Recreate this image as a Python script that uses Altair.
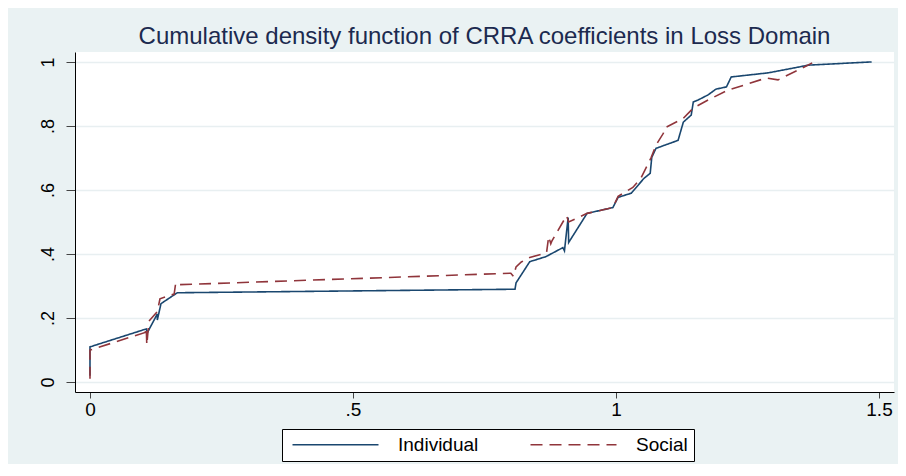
import altair as alt
import pandas as pd

series_names = ["Individual", "Social"]
series_colors = ["#1a476f", "#90353b"]

indiv_x = [0.0, 0.0, 0.107, 0.109, 0.128, 0.128, 0.135, 0.166, 0.808, 0.81, 0.825, 0.836,
           0.867, 0.899, 0.902, 0.909, 0.910, 0.945, 0.994, 1.004, 1.029, 1.053, 1.065,
           1.068, 1.076, 1.118, 1.128, 1.143, 1.147, 1.156, 1.175, 1.19, 1.21, 1.219,
           1.29, 1.366, 1.486]
indiv_y = [0.02, 0.11, 0.166, 0.154, 0.213, 0.194, 0.245, 0.279, 0.29, 0.31, 0.348, 0.376,
           0.392, 0.42, 0.41, 0.514, 0.436, 0.527, 0.545, 0.577, 0.59, 0.636, 0.652,
           0.702, 0.73, 0.755, 0.812, 0.834, 0.875, 0.881, 0.897, 0.915, 0.922, 0.953,
           0.966, 0.99, 1.0]

social_x = [0.0, 0.0, 0.105, 0.107, 0.108, 0.112, 0.128, 0.133, 0.16, 0.163, 0.167, 0.80,
            0.805, 0.81, 0.82, 0.836, 0.868, 0.872, 0.876, 0.878, 0.906, 0.91, 0.945,
            0.994, 1.004, 1.032, 1.047, 1.067, 1.076, 1.09, 1.092, 1.128, 1.147, 1.175,
            1.213, 1.244, 1.286, 1.308, 1.347, 1.373]
social_y = [0.01, 0.10, 0.155, 0.17, 0.116, 0.19, 0.22, 0.26, 0.275, 0.31, 0.304, 0.34,
            0.33, 0.36, 0.375, 0.389, 0.404, 0.455, 0.432, 0.44, 0.52, 0.50, 0.527,
            0.545, 0.58, 0.608, 0.636, 0.702, 0.74, 0.777, 0.793, 0.824, 0.856, 0.881,
            0.912, 0.928, 0.95, 0.944, 0.975, 0.997]

x_ticks = [0, 0.5, 1, 1.5]
x_tick_labels = ["0", ".5", "1", "1.5"]
y_ticks = [0, 0.2, 0.4, 0.6, 0.8, 1]
y_tick_labels = ["0", ".2", ".4", ".6", ".8", "1"]


def label_expr(values, labels):
    expr = "''"
    for v, lab in reversed(list(zip(values, labels))):
        expr = f"abs(datum.value - {v}) < 1e-6 ? '{lab}' : ({expr})"
    return expr


rows = []
for name, xs, ys in [("Individual", indiv_x, indiv_y), ("Social", social_x, social_y)]:
    for i, (xv, yv) in enumerate(zip(xs, ys)):
        rows.append({"series": name, "x": xv, "y": yv, "order": i})
df = pd.DataFrame(rows)

FONT = "Liberation Sans"

legend = alt.Legend(title=None, orient="none", legendX=207, legendY=377,
                    direction="horizontal")

chart = alt.Chart(df).mark_line(strokeWidth=1.6).encode(
    x=alt.X("x:Q",
            scale=alt.Scale(domain=[-0.0285, 1.5285], nice=False, zero=False),
            axis=alt.Axis(values=x_ticks, labelExpr=label_expr(x_ticks, x_tick_labels),
                          title=None, grid=False, tickSize=6, labelPadding=2,
                          labelFontSize=19)),
    y=alt.Y("y:Q",
            scale=alt.Scale(domain=[-0.031, 1.031], nice=False, zero=False),
            axis=alt.Axis(values=y_ticks, labelExpr=label_expr(y_ticks, y_tick_labels),
                          title=None, grid=True, gridColor="#e8eff1", gridWidth=1.5,
                          tickSize=9, labelPadding=9, labelAngle=270,
                          labelAlign="center", labelBaseline="bottom",
                          labelFontSize=18)),
    color=alt.Color("series:N",
                    scale=alt.Scale(domain=series_names, range=series_colors),
                    legend=legend),
    strokeDash=alt.StrokeDash("series:N",
                              scale=alt.Scale(domain=series_names, range=[[1, 0], [12, 7]]),
                              legend=legend),
    order="order:Q",
).properties(
    width=819,
    height=340,
    title=alt.TitleParams("Cumulative density function of CRRA coefficients in Loss Domain",
                          fontSize=24, font=FONT, fontWeight="normal", color="#1c2a4f",
                          anchor="middle", offset=9, baseline="alphabetic", dy=25),
    autosize=alt.AutoSizeParams(type="none"),
    padding={"left": 67, "top": 44, "right": 4, "bottom": 72},
    background="#eaf2f3",
).configure_view(
    fill="white", stroke=None
).configure_axis(
    domainColor="black", domainWidth=1, tickColor="#444444", tickWidth=1,
    labelColor="black", labelFont=FONT,
).configure_legend(
    strokeColor="black", fillColor="white", padding=6, cornerRadius=0,
    symbolType="M-1,0H16.2", symbolSize=100, symbolStrokeWidth=1.5,
    labelFont=FONT, labelFontSize=19, labelColor="black", labelOffset=91,
    columnPadding=47,
)

chart.save("out.html", embed_options={"renderer": "svg", "actions": False})
